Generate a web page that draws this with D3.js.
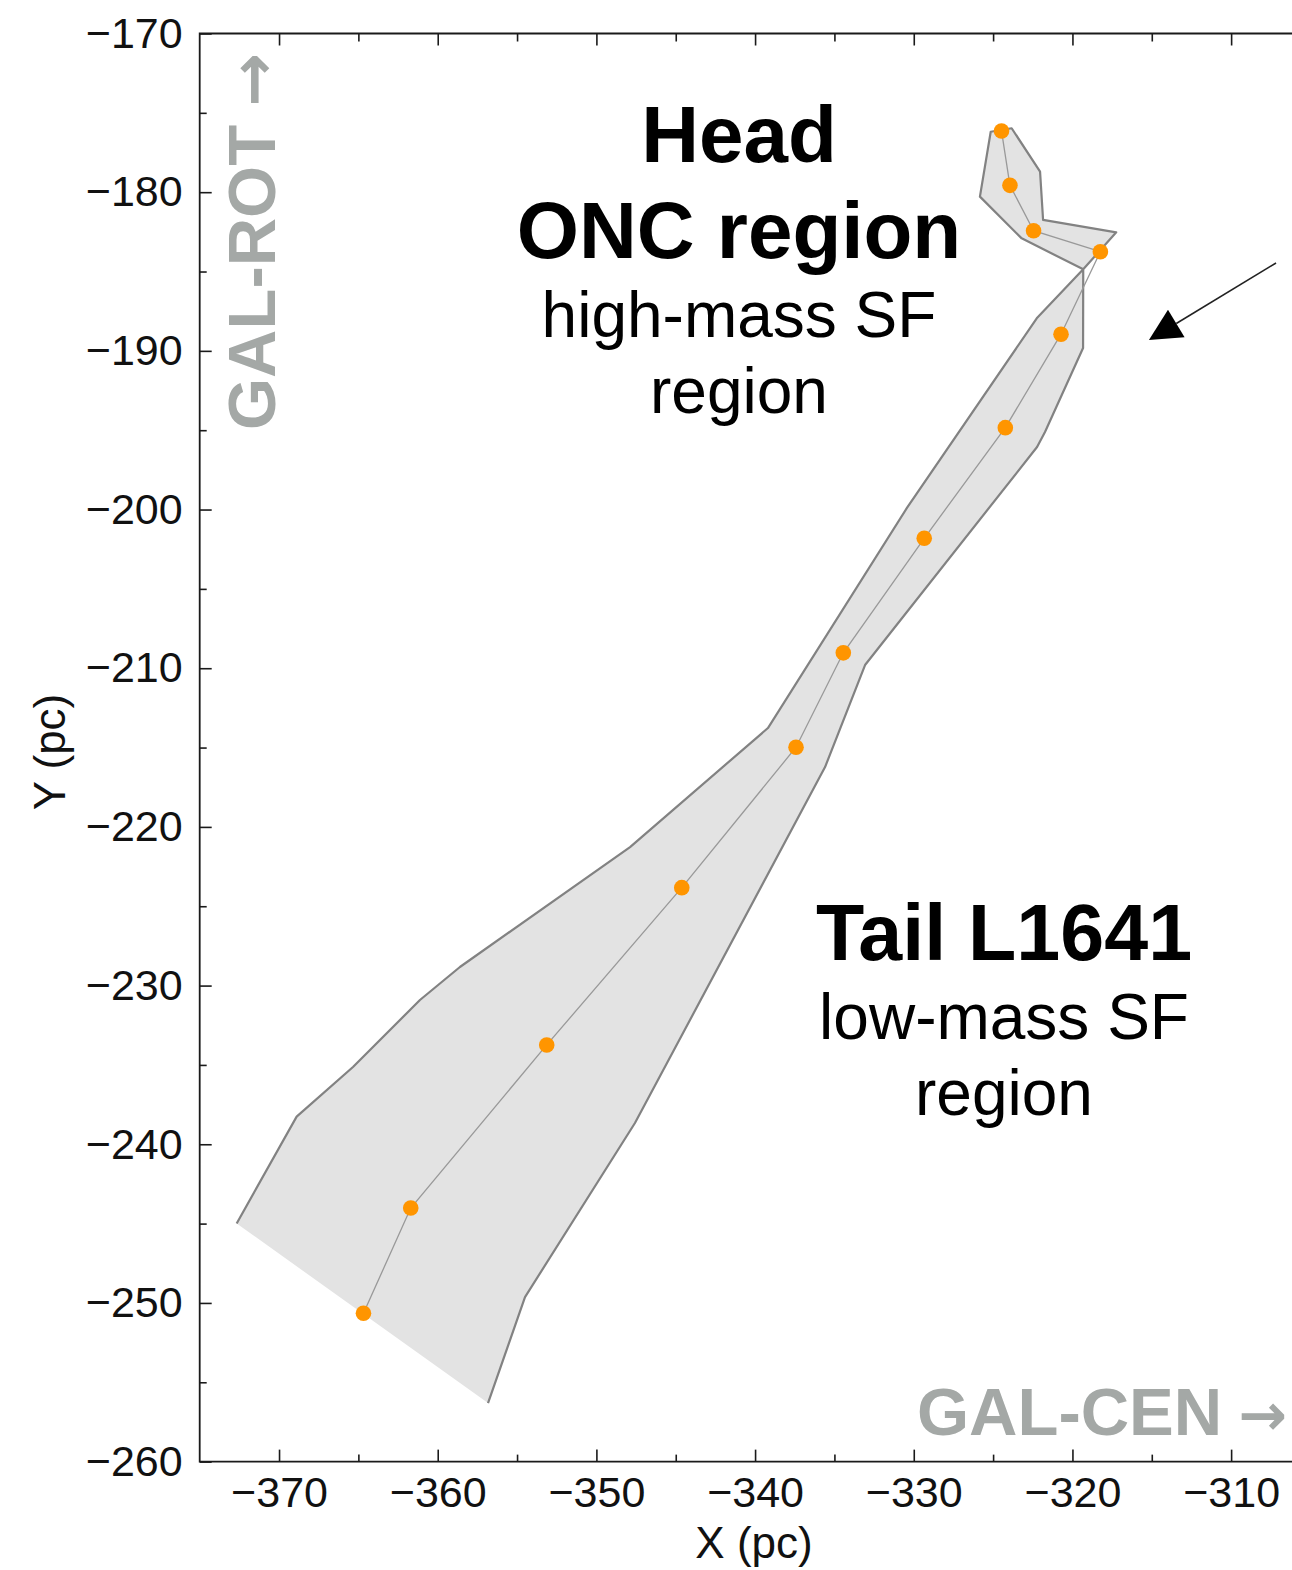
<!DOCTYPE html>
<html>
<head>
<meta charset="utf-8">
<script src="https://cdn.jsdelivr.net/npm/d3@7"></script>
<style>
  html, body { margin: 0; padding: 0; background: #fff; }
  svg { display: block; }
  text { font-family: "Liberation Sans", Arial, Helvetica, sans-serif; }
</style>
</head>
<body>
<svg id="chart" width="1292" height="1570"></svg>
<script>
// ---- data ----
const xTicks = [-370, -360, -350, -340, -330, -320, -310];
const yTicks = [-170, -180, -190, -200, -210, -220, -230, -240, -250, -260];
const xMinorTicks = [-365, -355, -345, -335, -325, -315, -305];
const yMinorTicks = [-175, -185, -195, -205, -215, -225, -235, -245, -255];

// spine (orange points, head -> tail)
const spineX = [-324.47, -323.94, -322.45, -318.24, -320.72, -324.23, -329.34, -334.44, -337.42, -344.62, -353.13, -361.70, -364.68];
const spineY = [-176.14, -179.57, -182.43, -183.75, -188.95, -194.84, -201.81, -209.03, -214.98, -223.83, -233.74, -244.02, -250.65];

// outline of the cloud (open polyline; closing edge is fill only)
const outlineX = [-372.67, -368.89, -365.34, -361.12, -358.60, -347.88, -339.19, -330.43, -322.25, -319.32,
                  -323.20, -325.83, -325.15, -323.83, -322.04, -321.85, -317.24, -319.32,
                  -319.33, -321.73, -322.23, -333.07, -335.59, -347.57, -354.50, -356.83];
const outlineY = [-244.99, -238.26, -235.13, -230.91, -228.83, -221.27, -213.77, -199.90, -187.95, -184.86,
                  -182.91, -180.28, -176.19, -175.97, -178.71, -181.75, -182.53, -184.86,
                  -189.82, -195.11, -196.06, -209.80, -216.23, -238.66, -249.63, -256.31];

// annotation arrow (tail -> tip)
const arrowX = [-307.17, -315.18];
const arrowY = [-184.46, -189.32];

const headLabels = ["Head", "ONC region", "high-mass SF", "region"];
const tailLabels = ["Tail L1641", "low-mass SF", "region"];

// ---- chart ----
const svg = d3.select("#chart");
const x = d3.scaleLinear().domain([-375, -306]).range([199.7, 199.7 + 69 * 15.868]);
const y = d3.scaleLinear().domain([-170, -260]).range([33.5, 33.5 + 90 * 15.868]);

const axisColor = "#1a1a1a";

// cloud fill
const pts = outlineX.map((v, i) => [x(v), y(outlineY[i])]);
svg.append("path")
  .attr("d", "M" + pts.map(p => p.join(",")).join("L") + "Z")
  .attr("fill", "#e3e3e3")
  .attr("stroke", "none");
svg.append("path")
  .attr("d", d3.line()(pts))
  .attr("fill", "none")
  .attr("stroke", "#828282")
  .attr("stroke-width", 2.2)
  .attr("stroke-linejoin", "round");

// spine line
const spinePts = spineX.map((v, i) => [x(v), y(spineY[i])]);
svg.append("path")
  .attr("d", d3.line()(spinePts))
  .attr("fill", "none")
  .attr("stroke", "#999")
  .attr("stroke-width", 1.3);

svg.selectAll("circle.spine").data(spinePts).enter().append("circle")
  .attr("class", "spine")
  .attr("cx", d => d[0]).attr("cy", d => d[1]).attr("r", 7.8)
  .attr("fill", "#ff9500");

// axes
const H = y(-260), T = y(-170), L = x(-375), R = x(-306);
function styleAxis(g) {
  g.select(".domain").remove();
  g.selectAll("line").attr("stroke", axisColor).attr("stroke-width", 1.6);
  g.selectAll("text").attr("fill", "#111").style("font-size", "43px")
    .style("font-family", '"Liberation Sans", Arial, sans-serif');
}
svg.append("g").attr("transform", `translate(0,${H})`)
  .call(d3.axisBottom(x).tickValues(xTicks).tickSize(-12).tickPadding(15)).call(styleAxis);
svg.append("g").attr("transform", `translate(0,${H})`)
  .call(d3.axisBottom(x).tickValues(xMinorTicks).tickSize(-7).tickFormat("")).call(styleAxis);
svg.append("g").attr("transform", `translate(0,${T})`)
  .call(d3.axisTop(x).tickValues(xTicks).tickSize(-12).tickFormat("")).call(styleAxis);
svg.append("g").attr("transform", `translate(0,${T})`)
  .call(d3.axisTop(x).tickValues(xMinorTicks).tickSize(-8).tickFormat("")).call(styleAxis);
svg.append("g").attr("transform", `translate(${L},0)`)
  .call(d3.axisLeft(y).tickValues(yTicks).tickSize(-12).tickPadding(17)).call(styleAxis);
svg.append("g").attr("transform", `translate(${L},0)`)
  .call(d3.axisLeft(y).tickValues(yMinorTicks).tickSize(-7).tickFormat("")).call(styleAxis);

// frame
svg.append("path")
  .attr("d", `M${R},${T}L${L},${T}L${L},${H}L${R},${H}`)
  .attr("fill", "none").attr("stroke", axisColor).attr("stroke-width", 1.8);

// axis labels
svg.append("text").attr("x", 754).attr("y", 1558).attr("text-anchor", "middle")
  .style("font-size", "44px").attr("fill", "#111").text("X (pc)");
svg.append("text").attr("transform", "translate(65,752) rotate(-90)").attr("text-anchor", "middle")
  .style("font-size", "44px").attr("fill", "#111").text("Y (pc)");

// direction labels
const gray = "#a4a8a6";
const rot = svg.append("text").attr("transform", "translate(275,430) rotate(-90)")
  .style("font-size", "67px").style("font-weight", "bold").attr("fill", gray);
rot.append("tspan").text("GAL-ROT");
rot.append("tspan").attr("dx", 18).style("font-family", '"DejaVu Sans", sans-serif')
  .style("font-size", "64px").text("\u2192");
const cen = svg.append("text").attr("x", 917).attr("y", 1435)
  .style("font-size", "67px").style("font-weight", "bold").attr("fill", gray);
cen.append("tspan").text("GAL-CEN");
cen.append("tspan").attr("dx", 16).style("font-family", '"DejaVu Sans", sans-serif')
  .style("font-size", "58px").text("\u2192");

// region labels
const headBase = [161.7, 258.3, 336.7, 413.3];
headLabels.forEach((t, i) => {
  svg.append("text").attr("x", 739).attr("y", headBase[i]).attr("text-anchor", "middle")
    .style("font-size", i < 2 ? "80px" : "64px").style("font-weight", i < 2 ? "bold" : "normal")
    .attr("fill", "#000").text(t);
});
const tailBase = [960, 1038.5, 1115];
tailLabels.forEach((t, i) => {
  svg.append("text").attr("x", 1004).attr("y", tailBase[i]).attr("text-anchor", "middle")
    .style("font-size", i < 1 ? "79px" : "64px").style("font-weight", i < 1 ? "bold" : "normal")
    .attr("fill", "#000").text(t);
});

// annotation arrow
const tail = [x(arrowX[0]), y(arrowY[0])], tip = [x(arrowX[1]), y(arrowY[1])];
const dx = tip[0] - tail[0], dy = tip[1] - tail[1], len = Math.hypot(dx, dy);
const ux = dx / len, uy = dy / len, px = -uy, py = ux;
const headLen = 32, headHalf = 16;
const base = [tip[0] - ux * headLen, tip[1] - uy * headLen];
svg.append("line").attr("x1", tail[0]).attr("y1", tail[1]).attr("x2", base[0]).attr("y2", base[1])
  .attr("stroke", "#222").attr("stroke-width", 1.6);
svg.append("path")
  .attr("d", `M${tip[0]},${tip[1]}L${base[0] + px * headHalf},${base[1] + py * headHalf}L${base[0] - px * headHalf},${base[1] - py * headHalf}Z`)
  .attr("fill", "#000");
</script>
</body>
</html>
